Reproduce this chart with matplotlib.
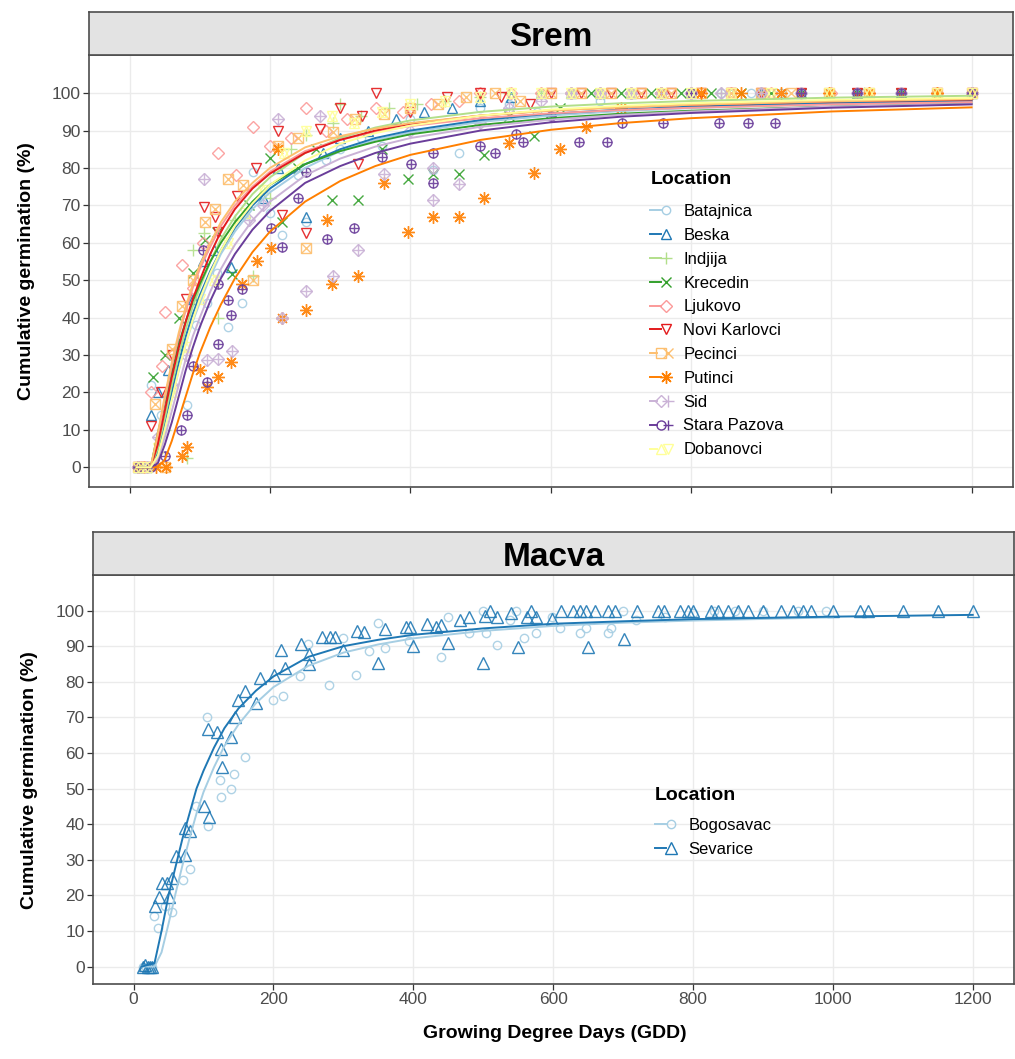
import numpy as np
import matplotlib
matplotlib.use("Agg")
import matplotlib.pyplot as plt
from matplotlib.lines import Line2D
from matplotlib.legend_handler import HandlerTuple

plt.rcParams['font.family'] = ['Liberation Sans', 'DejaVu Sans']

# ---------------- data: Srem ----------------
srem_names = ["Batajnica", "Beska", "Indjija", "Krecedin", "Ljukovo", "Novi Karlovci",
              "Pecinci", "Putinci", "Sid", "Stara Pazova", "Dobanovci"]

batajnica_x = [12, 22, 31, 45, 60, 81, 95, 110, 125, 140,
               160, 176, 200, 217, 240, 251, 280, 300, 330, 360,
               400, 433, 469, 500, 540, 580, 629, 671, 714, 757,
               800, 843, 886, 929, 997, 1046, 1100, 1150, 1200]
batajnica_y = [0, 0, 22, 14, 24, 16.6, 38, 44, 52, 37.5,
               44, 79, 68, 62, 78, 65.6, 82, 85, 88, 86,
               93, 79.5, 84, 96, 97, 95, 100, 98, 100, 100,
               100, 100, 100, 100, 100, 100, 100, 100, 100]

beska_x = [12, 22, 31, 40, 55, 70, 90, 105, 120, 144,
           165, 190, 212, 251, 275, 300, 340, 380, 420, 460,
           500, 543, 586, 629, 671, 714, 757, 800, 857, 900,
           957, 1036, 1100, 1150, 1200]
beska_y = [0, 0, 13.9, 20, 26, 33, 45, 55, 58, 53.6,
           68, 72, 80, 67, 84, 88, 90, 93, 95, 96,
           98, 99, 100, 100, 100, 100, 100, 100, 100, 100,
           100, 100, 100, 100, 100]

indjija_x = [12, 20, 30, 50, 81, 90, 106, 126, 150, 176,
             200, 230, 251, 290, 300, 330, 370, 410, 450, 500,
             540, 586, 629, 671, 714, 757, 800, 843, 900, 957,
             1046, 1100, 1200]
indjija_y = [0, 0, 0, 10, 2.4, 58, 62.5, 40, 66, 51,
             72, 85, 88.8, 92, 97, 94, 96, 97, 98, 99,
             100, 100, 100, 100, 100, 100, 100, 100, 100, 100,
             100, 100, 100]

krecedin_x = [12, 22, 33, 50, 70, 90, 107, 125, 146, 170,
              200, 217, 240, 265, 288, 325, 360, 397, 433, 469,
              505, 540, 576, 614, 657, 700, 743, 786, 829, 871,
              914, 957, 1036, 1100, 1200]
krecedin_y = [0, 0, 24, 30, 40, 52, 60.7, 63, 51.6, 70,
              82.6, 65.6, 80, 85, 71.5, 71.5, 85, 77, 78.5, 78.5,
              83.5, 94, 88.5, 96, 100, 100, 100, 100, 100, 100,
              100, 100, 100, 100, 100]

ljukovo_x = [12, 20, 31, 46, 51, 60, 75, 90, 105, 126,
             151, 176, 200, 230, 251, 280, 310, 351, 390, 430,
             470, 500, 543, 586, 629, 671, 714, 757, 800, 857,
             914, 1000, 1054, 1150, 1200]
ljukovo_y = [0, 0, 20, 27, 41.5, 30, 54, 48, 60, 84,
             78, 91, 86, 88, 96, 90, 93, 96, 95, 97,
             98, 100, 100, 100, 100, 100, 100, 100, 100, 100,
             100, 100, 100, 100, 100]

novi_x = [12, 22, 31, 45, 60, 80, 106, 121, 126, 153,
          180, 212, 217, 251, 271, 300, 325, 331, 351, 400,
          452, 500, 529, 571, 600, 643, 686, 729, 771, 814,
          857, 900, 957, 1036, 1100, 1150, 1200]
novi_y = [0, 0, 11, 20, 30, 45, 69.6, 67, 63, 72.5,
          80, 90, 67.4, 62.5, 90.5, 96, 81, 94, 100, 95,
          99, 100, 99, 97, 100, 100, 100, 100, 100, 100,
          100, 100, 100, 100, 100, 100, 100]

pecinci_x = [12, 22, 36, 51, 60, 75, 90, 107, 121, 140,
             162, 176, 211, 240, 251, 290, 321, 362, 400, 440,
             480, 520, 557, 600, 643, 686, 729, 771, 814, 857,
             900, 943, 997, 1054, 1150, 1200]
pecinci_y = [0, 0, 16.8, 0, 31.5, 43, 50, 65.5, 69, 77,
             75.4, 50, 86, 88, 58.5, 89.7, 93, 94.5, 96, 97,
             99, 100, 98, 100, 100, 100, 100, 100, 100, 100,
             100, 100, 100, 100, 100, 100]

putinci_x = [12, 38, 52, 74, 81, 100, 110, 126, 145, 160,
             181, 201, 212, 217, 252, 281, 288, 325, 362, 397,
             433, 469, 505, 540, 576, 613, 650, 700, 757, 814,
             871, 929, 997, 1054, 1150, 1200]
putinci_y = [0, 0, 0, 3, 5.4, 26, 21.5, 24, 28, 49,
             55, 58.5, 85, 40, 42, 66, 49, 51, 76, 63,
             67, 67, 72, 86.6, 78.6, 85, 91, 96, 100, 100,
             100, 100, 100, 100, 100, 100]

sid_x = [12, 25, 40, 60, 80, 106, 110, 126, 146, 170,
         190, 211, 217, 252, 271, 290, 325, 362, 400, 433,
         433, 469, 500, 540, 586, 629, 671, 714, 757, 800,
         843, 900, 957, 1036, 1100, 1200]
sid_y = [0, 0, 8, 22, 30, 77, 28.6, 29, 31, 66,
         70, 93, 39.8, 47, 94, 51, 58, 78.5, 90, 71.5,
         80, 75.6, 92, 96, 98, 100, 100, 100, 100, 100,
         100, 100, 100, 100, 100, 100]

stara_x = [12, 30, 50, 73, 81, 90, 105, 110, 126, 126,
           140, 145, 160, 201, 217, 240, 251, 281, 320, 360,
           401, 433, 433, 500, 521, 551, 561, 600, 640, 680,
           701, 760, 800, 840, 881, 920, 957, 1036, 1100, 1200]
stara_y = [0, 0, 3, 9.9, 13.9, 27, 58, 22.7, 33, 49,
           44.6, 40.6, 47.6, 64, 59, 72, 79, 61, 64, 83,
           81, 84, 76, 86, 84, 89, 87, 94, 87, 87,
           92, 92, 100, 92, 92, 92, 100, 100, 100, 100]

dobanovci_x = [12, 25, 40, 60, 80, 100, 120, 140, 165, 190,
               220, 251, 288, 320, 360, 400, 450, 500, 543, 586,
               629, 671, 714, 757, 800, 857, 914, 997, 1054, 1150,
               1200]
dobanovci_y = [0, 0, 5, 20, 32, 45, 50, 60, 68, 74,
               84, 90, 94, 92, 95, 97, 98, 99, 100, 100,
               100, 100, 100, 100, 100, 100, 100, 100, 100, 100,
               100]

# fitted curves (GDD knots)
curve_gdd = [10, 30, 40, 50, 60, 70, 80, 90, 100, 115, 130, 150, 175, 200,
             250, 300, 350, 400, 500, 600, 700, 800, 1000, 1200]
fit_batajnica = [0, 0, 3, 10, 18, 26, 33, 39, 44, 51, 57, 63, 69, 73.5, 80, 84.5, 87.5, 89.5, 92.3, 94, 95.2, 96, 97.1, 97.8]
fit_beska = [0, 0, 4, 12, 20, 28, 35, 41, 46, 52.5, 58, 64, 70, 74.5, 81, 85, 88, 90, 92.8, 94.5, 95.6, 96.4, 97.4, 98]
fit_indjija = [0, 0, 5, 13, 22, 30, 37, 43, 48, 55, 61, 67, 73, 77.5, 84, 88, 90.8, 92.7, 95, 96.4, 97.3, 97.9, 98.8, 99.3]
fit_krecedin = [0, 0, 9, 17, 25, 33, 39, 44.5, 49, 55, 60, 65.5, 71, 75.5, 81, 84.5, 87, 89, 91.5, 93.3, 94.5, 95.3, 96.4, 97.2]
fit_ljukovo = [0, 0, 8, 18, 27, 35, 42, 48, 53, 59, 64.5, 70, 75, 79, 84.5, 87.5, 89.7, 91.2, 93.3, 94.6, 95.5, 96.1, 97, 97.6]
fit_novi = [0, 0, 6, 15, 24, 32, 39, 45, 50, 57, 63, 69, 74.5, 78.5, 84, 87.5, 90, 91.8, 94, 95.4, 96.3, 96.9, 97.8, 98.3]
fit_pecinci = [0, 0, 9, 19, 28, 36, 43, 49, 54, 60, 65.5, 71, 76, 80, 85.5, 88.5, 90.5, 92, 94, 95.3, 96.2, 96.9, 97.8, 98.4]
fit_putinci = [0, 0, 0, 2, 7, 13, 19, 25, 30.5, 37.5, 43.5, 50.5, 57.5, 63, 71, 76.5, 80.5, 83.5, 87.5, 90.2, 92, 93.3, 95.1, 96.2]
fit_sid = [0, 0, 2, 8, 15, 22, 29, 35, 40, 47, 53, 59.5, 66, 71, 78, 82.5, 85.7, 88, 91, 92.9, 94.2, 95.1, 96.4, 97.1]
fit_stara = [0, 0, 1, 6, 12, 19, 26, 32, 37.5, 44.5, 50.5, 57, 63.5, 68.5, 76, 80.5, 84, 86.5, 90, 92.2, 93.7, 94.7, 96.1, 97]
fit_dobanovci = [0, 0, 3, 10, 18, 26, 33, 39.5, 45, 52, 58, 64.5, 70.5, 75.5, 82, 86.5, 89.3, 91.3, 94, 95.6, 96.6, 97.3, 98.2, 98.7]

# ---------------- data: Macva ----------------
macva_names = ["Bogosavac", "Sevarice"]

bogosavac_x = [14, 18, 22, 26, 29, 35, 45, 55, 71, 80,
               90, 105, 107, 124, 125, 139, 144, 159, 200, 214,
               238, 250, 279, 300, 318, 336, 349, 359, 394, 439,
               450, 480, 499, 504, 519, 538, 547, 559, 575, 598,
               610, 639, 647, 679, 683, 700, 719, 760, 800, 830,
               860, 900, 950, 990]
bogosavac_y = [0, 0, 0, 0, 14.3, 10.8, 17, 15.4, 24.4, 27.5,
               45, 70, 39.5, 52.4, 47.7, 50, 54, 59, 75, 76,
               81.5, 90.6, 79, 92.3, 82, 88.7, 96.5, 89.5, 91.5, 87,
               98.3, 93.7, 100, 93.7, 90.4, 97.3, 100, 92.3, 93.7, 98.3,
               95.2, 93.7, 95.2, 93.7, 95.2, 100, 97.3, 98.3, 99.3, 100,
               100, 100, 100, 100]

sevarice_x = [14, 17, 20, 24, 27, 30, 36, 40, 48, 50,
              55, 60, 73, 74, 80, 101, 106, 108, 120, 125,
              127, 140, 145, 150, 160, 175, 181, 201, 211, 216,
              240, 251, 251, 269, 281, 288, 300, 320, 330, 350,
              360, 389, 396, 400, 420, 432, 440, 450, 467, 480,
              500, 503, 510, 519, 540, 550, 562, 569, 575, 599,
              611, 629, 639, 647, 650, 660, 679, 689, 701, 720,
              750, 758, 781, 793, 800, 826, 836, 850, 864, 879,
              900, 926, 943, 957, 969, 1000, 1039, 1050, 1100, 1150,
              1200]
sevarice_y = [0, 0.5, 0, 0, 0, 17, 19.6, 23.5, 23.5, 19.6,
              25, 31, 39, 31.4, 38, 45, 66.7, 42, 66, 61,
              56, 64.5, 70, 75, 77.5, 74, 81, 82, 89, 84,
              90.6, 87.8, 85, 92.6, 92.6, 92.6, 89, 94.3, 94.1, 85.3,
              94.8, 95.5, 95.5, 90, 96.3, 95.5, 96, 90.8, 97.3, 98.3,
              85.3, 98.5, 100, 98.3, 99.3, 89.9, 98.3, 100, 98.3, 97.6,
              100, 100, 100, 100, 89.9, 100, 100, 100, 92, 100,
              100, 100, 100, 100, 100, 100, 100, 100, 100, 100,
              100, 100, 100, 100, 100, 100, 100, 100, 100, 100,
              100]

macva_curve_gdd = [12, 30, 40, 50, 60, 70, 80, 90, 100, 115, 130, 150, 175, 200,
                   250, 300, 350, 400, 500, 600, 700, 800, 1000, 1200]
fit_bogosavac = [0, 0, 4, 12, 20.5, 28.5, 36, 43, 49, 56, 62, 68, 74, 78.5,
                 84.5, 88.2, 90.5, 92.2, 94.3, 95.7, 96.6, 97.2, 98.1, np.nan]
fit_sevarice = [0, 1, 10, 20, 28, 36, 43, 50, 55, 61.5, 67, 72.5, 77.5, 81.5,
                87, 90, 91.8, 93.2, 95, 96.3, 97, 97.6, 98.3, 98.8]

x_ticks = [0, 200, 400, 600, 800, 1000, 1200]
y_ticks = [0, 10, 20, 30, 40, 50, 60, 70, 80, 90, 100]

# ---------------- styles ----------------
srem_colors = ['#A6CEE3', '#1F78B4', '#B2DF8A', '#33A02C', '#FB9A99', '#E31A1C',
               '#FDBF6F', '#FF7F00', '#CAB2D6', '#6A3D9A', '#FFFF99']
srem_markers = [
    [('o', 6.0)],
    [('^', 7.5)],
    [('+', 9.0)],
    [('x', 7.0)],
    [('D', 5.8)],
    [('v', 7.5)],
    [('s', 7.0), ('x', 7.0)],
    [((8, 2, 0), 9.0)],
    [('D', 5.8), ('+', 8.2)],
    [('o', 6.5), ('+', 6.5)],
    [('^', 7.5), ('v', 7.5)],
]
srem_x = [batajnica_x, beska_x, indjija_x, krecedin_x, ljukovo_x, novi_x,
          pecinci_x, putinci_x, sid_x, stara_x, dobanovci_x]
srem_y = [batajnica_y, beska_y, indjija_y, krecedin_y, ljukovo_y, novi_y,
          pecinci_y, putinci_y, sid_y, stara_y, dobanovci_y]
srem_fit = [fit_batajnica, fit_beska, fit_indjija, fit_krecedin, fit_ljukovo, fit_novi,
            fit_pecinci, fit_putinci, fit_sid, fit_stara, fit_dobanovci]

macva_colors = ['#A6CEE3', '#1F78B4']
macva_markers = [[('o', 6.0)], [('^', 8.5)]]
macva_x = [bogosavac_x, sevarice_x]
macva_y = [bogosavac_y, sevarice_y]
macva_fit = [fit_bogosavac, fit_sevarice]

W, H = 1015, 1059
fig = plt.figure(figsize=(W / 100, H / 100), dpi=100)


def frac(l, t, r, b):
    return [l / W, 1 - b / H, (r - l) / W, (b - t) / H]


ax1 = fig.add_axes(frac(89, 55, 1013, 487))
ax2 = fig.add_axes(frac(93, 575, 1014, 984))
st1 = fig.add_axes(frac(89, 12, 1013, 55))
st2 = fig.add_axes(frac(93, 532, 1014, 575))

for st, title in ((st1, 'Srem'), (st2, 'Macva')):
    st.set_facecolor('#E3E3E3')
    st.set_xticks([])
    st.set_yticks([])
    for s in st.spines.values():
        s.set_color('#4d4d4d')
        s.set_linewidth(1.2)
    st.text(0.5, 0.21, title, ha='center', va='baseline', fontsize=24,
            fontweight='bold', transform=st.transAxes)


def style(ax, ylim):
    ax.set_xlim(-58, 1259)
    ax.set_ylim(*ylim)
    ax.set_xticks(x_ticks)
    ax.set_yticks(y_ticks)
    ax.grid(True, color='#EBEBEB', lw=1.0)
    ax.set_axisbelow(True)
    for s in ax.spines.values():
        s.set_color('#4d4d4d')
        s.set_linewidth(1.2)
    ax.tick_params(length=4, width=0.9, color='#333333', labelsize=12.5,
                   labelcolor='#4D4D4D', pad=2)


def draw(ax, xs, ys, fits, knots, colors, markers):
    handles = []
    for x, y, c, mk in zip(xs, ys, colors, markers):
        for m, s in mk:
            ax.plot(x, y, ls='none', marker=m, ms=s, mfc='none', mec=c, mew=1.0,
                    alpha=0.9, zorder=2)
    for f, c in zip(fits, colors):
        ax.plot(knots, f, color=c, lw=1.4, zorder=3)
    for c, mk in zip(colors, markers):
        parts = [Line2D([], [], color=c, lw=1.4)]
        for m, s in mk:
            parts.append(Line2D([], [], ls='none', marker=m, ms=s, mfc='none',
                                mec=c, mew=1.0))
        handles.append(tuple(parts))
    return handles


style(ax1, (-5.3, 110.2))
style(ax2, (-4.9, 110.0))
ax1.tick_params(labelbottom=False)

h1 = draw(ax1, srem_x, srem_y, srem_fit, curve_gdd, srem_colors, srem_markers)
h2 = draw(ax2, macva_x, macva_y, macva_fit, macva_curve_gdd, macva_colors, macva_markers)

leg_kw = dict(loc='upper left', bbox_transform=fig.transFigure, frameon=False,
              borderpad=0, fontsize=12, handlelength=1.3, handletextpad=0.7,
              labelspacing=0.53, borderaxespad=0,
              handler_map={tuple: HandlerTuple(ndivide=None, pad=0)})
ax1.legend(h1, srem_names, bbox_to_anchor=(650 / W, 1 - 204 / H), **leg_kw)
ax2.legend(h2, macva_names, bbox_to_anchor=(655 / W, 1 - 818 / H), **leg_kw)

fig.text(651 / W, 1 - 179 / H, 'Location', ha='left', va='center',
         fontsize=14, fontweight='bold')
fig.text(655 / W, 1 - 796 / H, 'Location', ha='left', va='center',
         fontsize=14, fontweight='bold')

fig.text(27 / W, 1 - 271 / H, 'Cumulative germination (%)', rotation=90,
         ha='center', va='center', fontsize=14, fontweight='bold')
fig.text(30 / W, 1 - 780 / H, 'Cumulative germination (%)', rotation=90,
         ha='center', va='center', fontsize=14, fontweight='bold')
fig.text(555 / W, 1 - 1034 / H, 'Growing Degree Days (GDD)', ha='center',
         va='center', fontsize=14, fontweight='bold')

fig.savefig('out.png', dpi=100)
